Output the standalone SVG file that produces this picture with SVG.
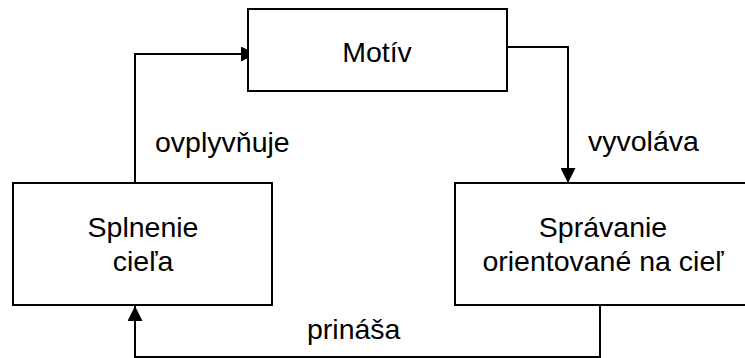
<svg xmlns="http://www.w3.org/2000/svg" width="745" height="358" viewBox="0 0 745 358">
  <style>
    .box { fill: #ffffff; stroke: #000000; stroke-width: 2; }
    .edge { fill: none; stroke: #000000; stroke-width: 2; marker-end: url(#arrow); }
    text { font-family: "Liberation Sans", Arial, sans-serif; font-size: 28.5px; fill: #000000; }
    .c { text-anchor: middle; }
  </style>
  <defs>
    <marker id="arrow" markerUnits="userSpaceOnUse" markerWidth="15" markerHeight="15" refX="15" refY="7.5" orient="auto">
      <path d="M0,0 L15,7.5 L0,15 Z" fill="#000000"/>
    </marker>
  </defs>

  <rect width="745" height="358" fill="#ffffff"/>

  <g id="connectors">
    <path class="edge" d="M135,183 V54 H256"/>
    <path class="edge" d="M507,47 H568 V183"/>
    <path class="edge" d="M600,305 V357 H135 V306"/>
    <text x="155" y="152">ovplyvňuje</text>
    <text x="588" y="151">vyvoláva</text>
    <text x="307" y="339">prináša</text>
  </g>

  <g id="motiv">
    <rect class="box" x="248" y="9" width="259" height="82"/>
    <text class="c" x="377" y="61.5">Motív</text>
  </g>

  <g id="splnenie">
    <rect class="box" x="13" y="183" width="259" height="122"/>
    <text class="c" x="143" y="236.5">Splnenie</text>
    <text class="c" x="143" y="271">cieľa</text>
  </g>

  <g id="spravanie">
    <rect class="box" x="455" y="183" width="297" height="122"/>
    <text class="c" x="603" y="236.5">Správanie</text>
    <text class="c" x="603" y="271">orientované na cieľ</text>
  </g>
</svg>
